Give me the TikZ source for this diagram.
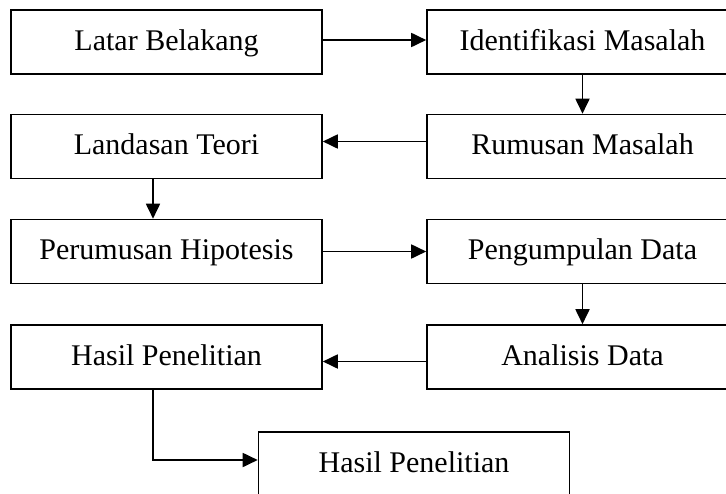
\documentclass[tikz,border=0pt]{standalone}
\usepackage{fontspec}
\setmainfont{Liberation Serif}
\usetikzlibrary{arrows.meta}
\definecolor{ink}{HTML}{000000}
\tikzset{
  stepbox/.style={rectangle,draw=ink,fill=white,text=ink,
    minimum width=311pt,minimum height=64pt,inner sep=0pt,
    text height=21pt,text depth=5pt,
    font=\fontsize{30}{36}\selectfont,line width=1.6pt},
  flow/.style={-{Triangle[length=15pt,width=14pt]},line width=1.8pt,color=ink},
}
\begin{document}
\begin{tikzpicture}[x=1pt,y=-1pt]
  \path[use as bounding box,clip] (0,0) rectangle (726,493);
  \node[stepbox] (lb) at (166.5,42){Latar Belakang}; \node[stepbox] (im) at (582.5,42){Identifikasi Masalah};
  \node[stepbox] (lt) at (166.5,146.5){Landasan Teori}; \node[stepbox] (rm) at (582.5,146.5){Rumusan Masalah};
  \node[stepbox] (ph) at (166.5,251.5){Perumusan Hipotesis}; \node[stepbox] (pd) at (582.5,251.5){Pengumpulan Data};
  \node[stepbox] (hp) at (166.5,357){Hasil Penelitian}; \node[stepbox] (ad) at (582.5,357){Analisis Data};
  \node[stepbox] (hb) at (414,464){Hasil Penelitian};
  \draw[flow] ([yshift=2pt]lb.east)--([yshift=2pt]im.west);
  \draw[flow] (im.south)--(rm.north);
  \draw[flow] ([yshift=5pt]rm.west)--([yshift=5pt]lt.east);
  \draw[flow] ([xshift=-13.5pt]lt.south)--([xshift=-13.5pt]ph.north);
  \draw[flow] (ph.east)--(pd.west);
  \draw[flow] (pd.south)--(ad.north);
  \draw[flow] ([yshift=-4.5pt]ad.west)--([yshift=-4.5pt]hp.east);
  \draw[flow] ([xshift=-13.5pt]hp.south)|-([yshift=4pt]hb.west);
\end{tikzpicture}
\end{document}
